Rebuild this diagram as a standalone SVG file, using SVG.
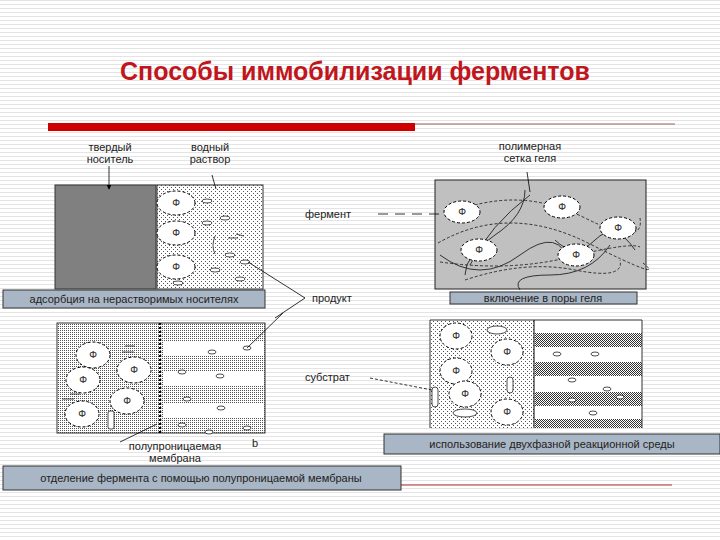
<svg xmlns="http://www.w3.org/2000/svg" width="720" height="540" viewBox="0 0 720 540">
<defs>
<pattern id="bg" width="4" height="4" patternUnits="userSpaceOnUse"><rect width="4" height="4" fill="#fff"/><rect width="4" height="1" fill="#e4e4e4"/></pattern>
<pattern id="dots" width="4" height="4" patternUnits="userSpaceOnUse"><rect width="4" height="4" fill="#fff"/><rect x="1" y="1" width="1" height="1" fill="#555"/><rect x="3" y="3" width="1" height="1" fill="#555"/></pattern>
<pattern id="vstr" width="2" height="2" patternUnits="userSpaceOnUse"><rect width="2" height="2" fill="#fff"/><rect width="1" height="1" fill="#555"/></pattern>
<pattern id="dense" width="2" height="2" patternUnits="userSpaceOnUse"><rect width="2" height="2" fill="#fff"/><rect width="1" height="1" fill="#333"/><rect x="1" y="1" width="1" height="1" fill="#333"/></pattern>
<marker id="ar" markerWidth="6" markerHeight="6" refX="5" refY="3" orient="auto"><path d="M0,0L6,3L0,6z" fill="#000"/></marker>
</defs>
<style>
.t{font-family:"Liberation Sans",Arial,sans-serif;font-size:11px;fill:#222}
.c{text-anchor:middle}
.lb{fill:#a9b6c5;stroke:#333;stroke-width:1}
.enz{fill:#fff;stroke:#000;stroke-dasharray:3 2;stroke-width:1}
.f{font-family:"DejaVu Sans",sans-serif;font-size:9px;text-anchor:middle;fill:#222}
.ln{stroke:#000;stroke-width:0.8;fill:none}
.mesh{stroke:#222;stroke-width:0.9;fill:none}
.meshd{stroke:#222;stroke-width:0.9;fill:none;stroke-dasharray:3 2}
</style>
<rect width="720" height="540" fill="url(#bg)"/>
<text x="355" y="80" font-family="Liberation Sans,Arial,sans-serif" font-size="25" font-weight="bold" fill="#c0161d" text-anchor="middle">Способы иммобилизации ферментов</text>
<rect x="48" y="123" width="367" height="8" fill="#d00000"/>
<line x1="415" y1="124" x2="675" y2="124" stroke="#9a6060" stroke-width="1"/>
<line x1="392" y1="485" x2="672" y2="485" stroke="#b03030" stroke-width="1"/>

<g id="panel1">
<rect x="55" y="185" width="101" height="104" fill="#808080" stroke="#333"/>
<rect x="157" y="185" width="106" height="104" fill="url(#dots)" stroke="#333"/>
<ellipse cx="176" cy="203" rx="19" ry="12" class="enz"/><text x="176" y="206" class="f">Ф</text>
<ellipse cx="176" cy="233" rx="19" ry="12" class="enz"/><text x="176" y="236" class="f">Ф</text>
<ellipse cx="176" cy="267" rx="19" ry="12" class="enz"/><text x="176" y="270" class="f">Ф</text>
<g fill="#fff" stroke="#000" stroke-width="0.7">
<ellipse cx="207" cy="201" rx="5" ry="2"/><ellipse cx="225" cy="218" rx="5" ry="2"/><ellipse cx="207" cy="223" rx="5" ry="2"/><ellipse cx="230" cy="255" rx="5" ry="2"/><ellipse cx="215" cy="270" rx="5" ry="2"/><ellipse cx="245" cy="262" rx="5" ry="2"/><ellipse cx="240" cy="279" rx="5" ry="2"/><ellipse cx="178" cy="283" rx="5" ry="2"/>
<path d="M215,236 q-4,10 0,18" /><path d="M228,238 l10,0 M236,234 l8,2"/>
</g>
<text x="110" y="151" class="t c">твердый</text><text x="110" y="163" class="t c">носитель</text>
<text x="210" y="151" class="t c">водный</text><text x="210" y="163" class="t c">раствор</text>
<line x1="109" y1="166" x2="109" y2="189" class="ln" marker-end="url(#ar)"/>
<line x1="212" y1="175" x2="216" y2="189" class="ln"/>
<rect x="3" y="290" width="262" height="18" class="lb"/>
<text x="134" y="303" class="t c">адсорбция на нерастворимых носителях</text>
</g>

<g id="panel2">
<rect x="435" y="180" width="211" height="109" fill="#c0c0c0" stroke="#222"/>
<path d="M465,208 q60,-20 120,10 t55,0" class="meshd"/>
<path d="M438,243 q70,-40 150,0 t55,20" class="meshd"/>
<path d="M440,262 q70,10 130,-5 t70,-10" class="meshd"/>
<path d="M465,280 q60,-20 110,-10 t45,-10" class="meshd"/>
<path d="M530,195 q-40,30 -60,70" class="mesh"/>
<path d="M525,190 q0,25 -30,45 t-30,40" class="mesh"/>
<path d="M610,245 q-20,30 -60,30 t-30,15" class="mesh"/>
<path d="M555,240 q20,20 40,0 t40,10" class="mesh"/>
<path d="M440,255 q40,30 80,0 t50,10" class="mesh"/>
<ellipse cx="462" cy="212" rx="18" ry="11" class="enz"/><text x="462" y="215" class="f">Ф</text>
<ellipse cx="562" cy="207" rx="18" ry="11" class="enz"/><text x="562" y="210" class="f">Ф</text>
<ellipse cx="618" cy="228" rx="18" ry="11" class="enz"/><text x="618" y="231" class="f">Ф</text>
<ellipse cx="479" cy="250" rx="18" ry="11" class="enz"/><text x="479" y="253" class="f">Ф</text>
<ellipse cx="576" cy="255" rx="18" ry="11" class="enz"/><text x="576" y="258" class="f">Ф</text>
<text x="530" y="150" class="t c">полимерная</text><text x="530" y="162" class="t c">сетка геля</text>
<line x1="527" y1="172" x2="530" y2="192" class="ln"/>
<text x="305" y="218" class="t">фермент</text>
<line x1="378" y1="214" x2="444" y2="214" class="ln" stroke-dasharray="10 7"/>
<rect x="450" y="292" width="187" height="12" class="lb"/>
<text x="543" y="302" class="t c">включение в поры геля</text>
</g>

<g id="panel3">
<rect x="57" y="323" width="208" height="110" fill="url(#vstr)" stroke="#333"/>
<g fill="#fff"><rect x="163" y="342" width="101" height="14"/><rect x="163" y="372" width="101" height="14"/><rect x="163" y="404" width="101" height="14"/></g>
<line x1="160" y1="323" x2="160" y2="433" stroke="#000" stroke-width="2.5" stroke-dasharray="2 2"/>
<ellipse cx="93" cy="355" rx="17" ry="13" class="enz"/><text x="93" y="358" class="f">Ф</text>
<ellipse cx="134" cy="370" rx="17" ry="13" class="enz"/><text x="134" y="373" class="f">Ф</text>
<ellipse cx="83" cy="380" rx="17" ry="13" class="enz"/><text x="83" y="383" class="f">Ф</text>
<ellipse cx="127" cy="401" rx="17" ry="13" class="enz"/><text x="127" y="404" class="f">Ф</text>
<ellipse cx="82" cy="414" rx="17" ry="13" class="enz"/><text x="82" y="417" class="f">Ф</text>
<g fill="#fff" stroke="#000" stroke-width="0.7">
<ellipse cx="247" cy="348" rx="4" ry="2"/><ellipse cx="212" cy="352" rx="4" ry="2"/><ellipse cx="182" cy="372" rx="4" ry="2"/><ellipse cx="220" cy="376" rx="4" ry="2"/><ellipse cx="187" cy="399" rx="4" ry="2"/><ellipse cx="221" cy="408" rx="4" ry="2"/><ellipse cx="209" cy="432" rx="4" ry="2"/><ellipse cx="182" cy="425" rx="4" ry="2"/><ellipse cx="247" cy="428" rx="4" ry="2"/>
<path d="M122,352 h12 M125,346 h10"/><path d="M62,399 h12 M70,394 h10"/>
<rect x="108" y="411" width="6" height="18" rx="2"/>
</g>
<text x="175" y="450" class="t c">полупроницаемая</text><text x="175" y="462" class="t c">мембрана</text>
<text x="252" y="447" class="t">b</text>
<line x1="157" y1="424" x2="120" y2="442" class="ln"/>
<rect x="3" y="466" width="398" height="24" class="lb"/>
<text x="201" y="482" class="t c">отделение фермента с помощью полупроницаемой мембраны</text>
</g>

<g id="panel4">
<rect x="430" y="320" width="104" height="108" fill="url(#dots)"/>
<rect x="534" y="320" width="108" height="108" fill="#fff"/>
<g fill="url(#dense)"><rect x="535" y="333" width="107" height="14"/><rect x="535" y="362" width="107" height="14"/><rect x="535" y="392" width="107" height="14"/><rect x="535" y="419" width="107" height="9"/></g>
<line x1="430" y1="320" x2="642" y2="320" stroke="#333"/><line x1="430" y1="320" x2="430" y2="428" stroke="#333"/><line x1="642" y1="320" x2="642" y2="428" stroke="#333"/>
<line x1="534" y1="320" x2="534" y2="428" stroke="#000"/>
<ellipse cx="456" cy="336" rx="16" ry="13" class="enz"/><text x="456" y="339" class="f">Ф</text>
<ellipse cx="507" cy="352" rx="16" ry="13" class="enz"/><text x="507" y="355" class="f">Ф</text>
<ellipse cx="456" cy="371" rx="16" ry="13" class="enz"/><text x="456" y="374" class="f">Ф</text>
<ellipse cx="465" cy="394" rx="16" ry="13" class="enz"/><text x="465" y="397" class="f">Ф</text>
<ellipse cx="507" cy="412" rx="16" ry="13" class="enz"/><text x="507" y="415" class="f">Ф</text>
<g fill="#fff" stroke="#000" stroke-width="0.7">
<rect x="432" y="387" width="6" height="20" rx="3"/><rect x="507" y="377" width="6" height="16" rx="3"/>
<ellipse cx="497" cy="330" rx="10" ry="4"/><ellipse cx="465" cy="413" rx="12" ry="4"/>
<ellipse cx="557" cy="354" rx="4" ry="2"/><ellipse cx="595" cy="354" rx="4" ry="2"/><ellipse cx="572" cy="380" rx="4" ry="2"/><ellipse cx="607" cy="389" rx="4" ry="2"/><ellipse cx="572" cy="400" rx="4" ry="2"/><ellipse cx="593" cy="413" rx="4" ry="2"/><ellipse cx="620" cy="397" rx="4" ry="2"/>
</g>
<text x="305" y="381" class="t">субстрат</text>
<line x1="370" y1="378" x2="432" y2="390" class="ln" stroke-dasharray="3 2"/>
<rect x="384" y="434" width="336" height="20" class="lb"/>
<text x="552" y="448" class="t c">использование двухфазной реакционной среды</text>
</g>

<g id="connectors">
<polyline points="248,262 305,298 275,318" class="ln"/>
<text x="312" y="302" class="t">продукт</text>
<line x1="283" y1="313" x2="247" y2="348" class="ln"/>
</g>
</svg>
